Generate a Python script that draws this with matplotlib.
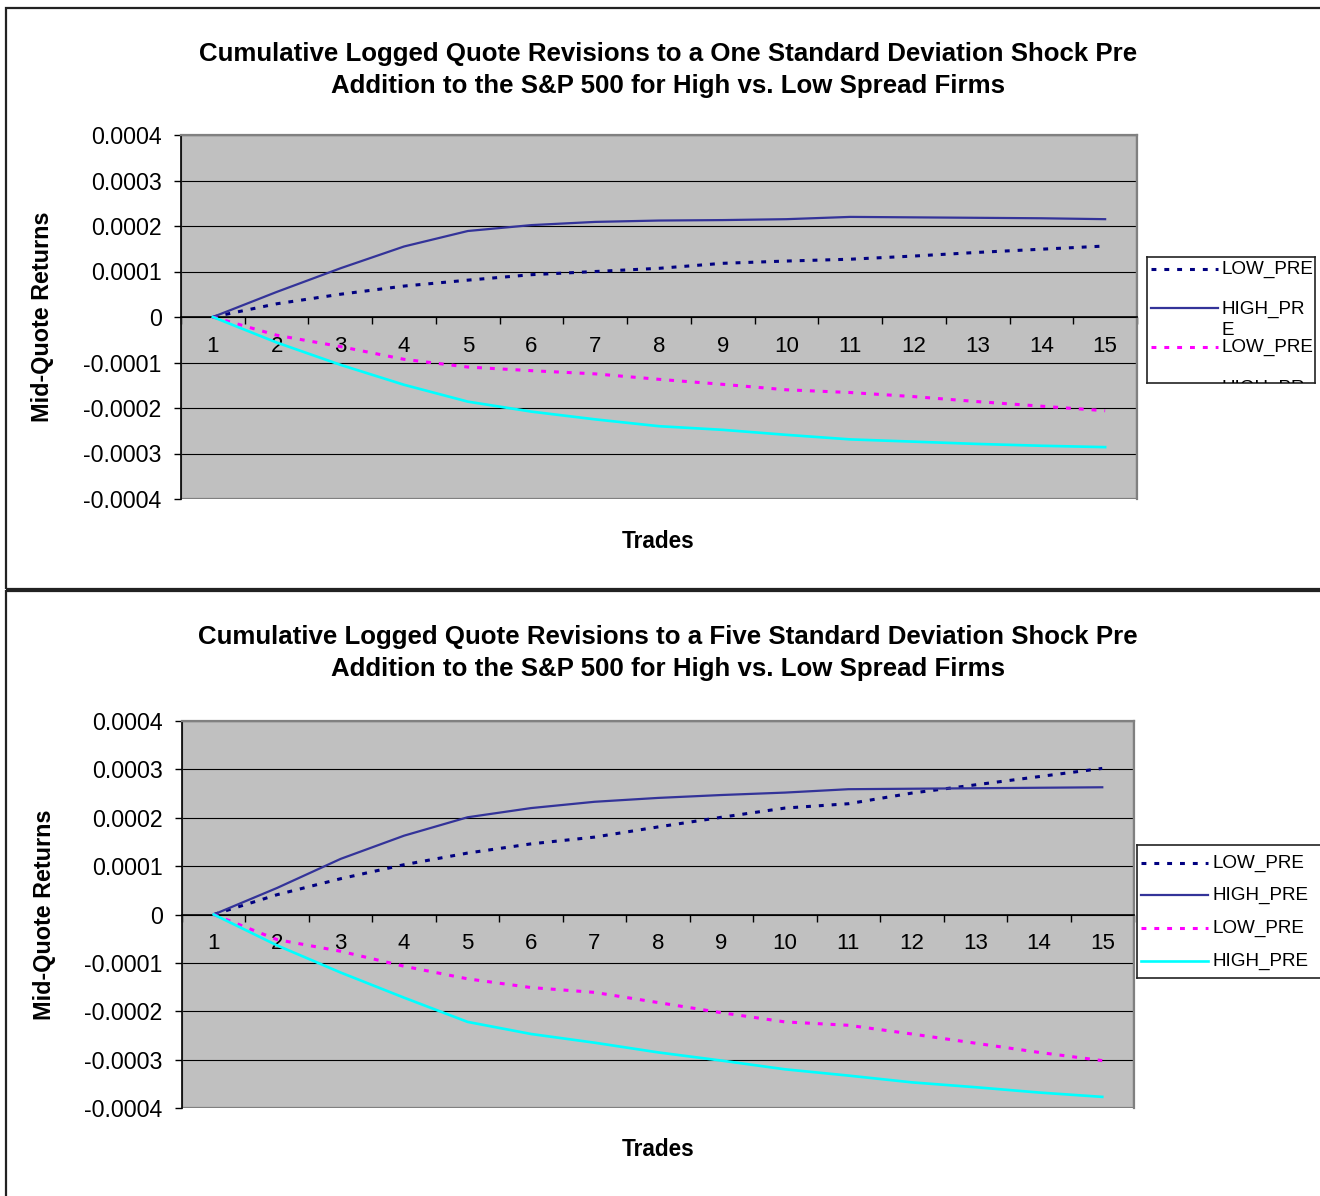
import matplotlib
matplotlib.use("Agg")
import matplotlib.pyplot as plt
from matplotlib.patches import Rectangle
from matplotlib.lines import Line2D
from matplotlib.ticker import FixedLocator, FuncFormatter, NullFormatter

plt.rcParams['font.family'] = ['Liberation Sans', 'DejaVu Sans']

W, H = 1320, 1196

# Trades after the shock
trades = list(range(1, 16))
series_names = ['LOW_PRE', 'HIGH_PRE', 'LOW_PRE', 'HIGH_PRE']

# One standard deviation shock
one_low_pos = [0, 0.000029, 0.00005, 0.000068, 0.000081, 0.000093, 0.0001, 0.000107,
               0.000118, 0.000123, 0.000127, 0.000134, 0.000142, 0.000149, 0.000156]
one_high_pos = [0, 0.000055, 0.000107, 0.000155, 0.000189, 0.000202, 0.000209, 0.000212,
                0.000213, 0.000215, 0.00022, 0.000219, 0.000218, 0.000217, 0.000215]
one_low_neg = [0, -0.00004, -0.000065, -0.000093, -0.00011, -0.000118, -0.000125, -0.000137,
               -0.000148, -0.00016, -0.000166, -0.000175, -0.000186, -0.000196, -0.000206]
one_high_neg = [0, -0.000056, -0.000105, -0.000149, -0.000186, -0.000208, -0.000225, -0.00024,
                -0.000248, -0.000259, -0.000269, -0.000274, -0.000279, -0.000283, -0.000286]

# Five standard deviation shock
five_low_pos = [0, 0.000041, 0.000074, 0.000103, 0.000127, 0.000146, 0.00016, 0.000181,
                0.000201, 0.00022, 0.000229, 0.000251, 0.000268, 0.000285, 0.000302]
five_high_pos = [0, 0.000055, 0.000115, 0.000163, 0.000201, 0.00022, 0.000233, 0.000241,
                 0.000247, 0.000252, 0.000259, 0.00026, 0.000261, 0.000262, 0.000263]
five_low_neg = [0, -0.000052, -0.000076, -0.000107, -0.000133, -0.000151, -0.000161, -0.000182,
                -0.000203, -0.000222, -0.000229, -0.000247, -0.000266, -0.000285, -0.000302]
five_high_neg = [0, -0.000064, -0.00012, -0.000172, -0.000222, -0.000247, -0.000265, -0.000285,
                 -0.000302, -0.00032, -0.000333, -0.000347, -0.000357, -0.000368, -0.000377]

y_ticks = [-0.0004, -0.0003, -0.0002, -0.0001, 0, 0.0001, 0.0002, 0.0003, 0.0004]

styles = [
    dict(color='#000080', lw=2.2, dashes=(1.6, 2.6)),
    dict(color='#333399', lw=1.6, ls='-'),
    dict(color='#FF00FF', lw=2.2, dashes=(1.6, 2.6)),
    dict(color='#00FFFF', lw=1.9, ls='-'),
]


def box(x0, y0, x1, y1):
    # pixel box -> figure fraction rect
    return [x0 / W, 1 - y1 / H, (x1 - x0) / W, (y1 - y0) / H]


def fmt(v, pos):
    if abs(v) < 1e-12:
        return '0'
    return '%.4f' % v


fig = plt.figure(figsize=(W / 100, H / 100), dpi=100)

# chart frames
for (x0, y0, x1, y1) in [(6, 8, 1330, 589), (6, 591, 1330, 1210)]:
    fig.patches.append(Rectangle((x0 / W, 1 - y1 / H), (x1 - x0) / W, (y1 - y0) / H,
                                 transform=fig.transFigure, fill=False,
                                 edgecolor='#222222', lw=1.6, zorder=0))


def panel(area, data, title, title_y, ylab_x, xlab_y, leg):
    ax = fig.add_axes(box(*area))
    ax.set_facecolor('#C0C0C0')
    for vals, st in zip(data, styles):
        ax.plot(trades, vals, solid_joinstyle='miter', zorder=3, **st)
    ax.set_xlim(0.5, 15.5)
    ax.set_ylim(-0.0004, 0.0004)

    ax.set_yticks(y_ticks)
    ax.yaxis.set_major_formatter(FuncFormatter(fmt))
    ax.tick_params(axis='y', direction='out', length=5, width=1, labelsize=16.7, pad=9)
    ax.grid(axis='y', color='black', lw=0.8)
    ax.set_axisbelow(True)

    # category axis crossing at zero
    ax.spines['bottom'].set_position(('data', 0))
    ax.spines['bottom'].set_color('black')
    ax.spines['bottom'].set_linewidth(1.2)
    ax.spines['bottom'].set_zorder(2.5)
    ax.spines['left'].set_color('black')
    ax.spines['left'].set_linewidth(1.2)
    for s in ['top', 'right']:
        ax.spines[s].set_color('#808080')
        ax.spines[s].set_linewidth(1.6)
    ax.add_patch(Rectangle((0, 0), 1, 1, transform=ax.transAxes, fill=False,
                           edgecolor='#808080', lw=1.6, zorder=1))
    ax.xaxis.set_major_locator(FixedLocator([i + 0.5 for i in range(0, 16)]))
    ax.xaxis.set_major_formatter(NullFormatter())
    ax.xaxis.set_minor_locator(FixedLocator(trades))
    ax.xaxis.set_minor_formatter(FuncFormatter(lambda v, p: '%d' % v))
    ax.tick_params(axis='x', which='major', direction='out', length=5, width=1)
    ax.tick_params(axis='x', which='minor', length=0, labelsize=16, pad=13.5)

    cx = 668 / W
    fig.text(cx, 1 - title_y / H, title, ha='center', va='center', fontsize=18.6,
             fontweight='bold', linespacing=1.46)
    fig.text(ylab_x / W, 1 - (area[1] + area[3]) / 2 / H, 'Mid-Quote Returns',
             rotation=90, ha='center', va='center', fontsize=16.8, fontweight='bold')
    fig.text(658 / W, 1 - xlab_y / H, 'Trades', ha='center', va='center',
             fontsize=16.3, fontweight='bold')

    # legend box, text clipped to the frame
    lx0, ly0, lx1, ly1, rows = leg
    lax = fig.add_axes(box(lx0, ly0, lx1, ly1))
    lax.set_xlim(lx0, lx1)
    lax.set_ylim(ly1, ly0)
    lax.set_xticks([])
    lax.set_yticks([])
    for s in lax.spines.values():
        s.set_color('#222222')
        s.set_linewidth(1.2)
    for (ly, label, ty), st in zip(rows, styles):
        lax.add_line(Line2D([lx0 + 4, lx0 + 71], [ly, ly], **st))
        lax.text(lx0 + 75, ty, label, ha='left', va='center', fontsize=13.6,
                 linespacing=1.3, clip_on=True)
    return ax


panel((181, 135, 1137, 499),
      [one_low_pos, one_high_pos, one_low_neg, one_high_neg],
      'Cumulative Logged Quote Revisions to a One Standard Deviation Shock Pre\n'
      'Addition to the S&P 500 for High vs. Low Spread Firms',
      70, 43, 541,
      (1147, 257, 1315, 383,
       [(269, 'LOW_PRE', 269), (308, 'HIGH_PR\nE', 320), (347, 'LOW_PRE', 347),
        (387, 'HIGH_PR\nE', 399)]))

panel((182, 721, 1134, 1108),
      [five_low_pos, five_high_pos, five_low_neg, five_high_neg],
      'Cumulative Logged Quote Revisions to a Five Standard Deviation Shock Pre\n'
      'Addition to the S&P 500 for High vs. Low Spread Firms',
      653, 45, 1149,
      (1137, 845, 1330, 978,
       [(863, 'LOW_PRE', 863), (895, 'HIGH_PRE', 895), (928, 'LOW_PRE', 928),
        (961, 'HIGH_PRE', 961)]))

fig.savefig('out.png', dpi=100)
